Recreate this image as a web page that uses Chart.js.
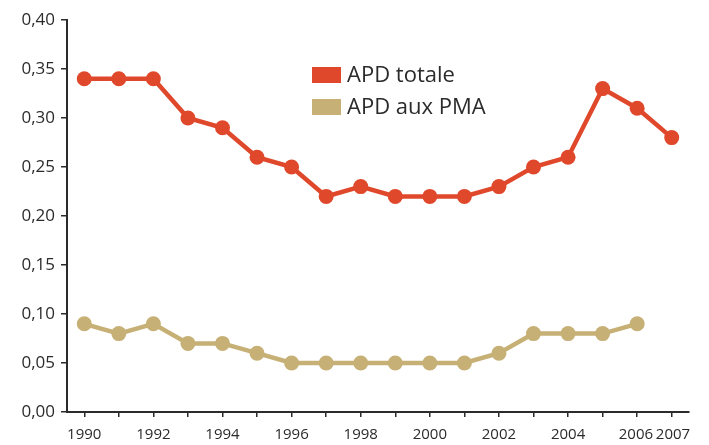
<!DOCTYPE html>
<html>
<head>
<meta charset="utf-8">
<script src="https://cdn.jsdelivr.net/npm/chart.js@4/dist/chart.umd.min.js"></script>
<style>
  html, body { margin: 0; padding: 0; background: #fff; }
  #wrap { width: 709px; height: 445px; }
</style>
</head>
<body>
<div id="wrap"><canvas id="chart"></canvas></div>
<script>
// data
const years = [1990, 1991, 1992, 1993, 1994, 1995, 1996, 1997, 1998, 1999, 2000, 2001, 2002, 2003, 2004, 2005, 2006, 2007];
const apdTotale = [0.34, 0.34, 0.34, 0.30, 0.29, 0.26, 0.25, 0.22, 0.23, 0.22, 0.22, 0.22, 0.23, 0.25, 0.26, 0.33, 0.31, 0.28];
const apdPma = [0.09, 0.08, 0.09, 0.07, 0.07, 0.06, 0.05, 0.05, 0.05, 0.05, 0.05, 0.05, 0.06, 0.08, 0.08, 0.08, 0.09, null];
const yearLabels = [1990, 1992, 1994, 1996, 1998, 2000, 2002, 2004, 2006, 2007];
const seriesNames = ['APD totale', 'APD aux PMA'];

const red = '#e0482c';
const tan = '#c6b075';
const ink = '#2b2b2b';
const font = '"Open Sans", sans-serif';

// legend drawn inside the plot, like the original
const innerLegend = {
    id: 'innerLegend',
    afterDraw(chart) {
        const ctx = chart.ctx;
        ctx.save();
        ctx.font = '500 22px ' + font;
        ctx.textBaseline = 'middle';
        chart.data.datasets.forEach((ds, i) => {
            const y = 75 + i * 32;
            ctx.fillStyle = ds.borderColor;
            ctx.fillRect(312, y - 8, 29, 16);
            ctx.fillStyle = ink;
            ctx.fillText(ds.label, 347, y + 1);
        });
        ctx.restore();
    }
};

const points = arr => years.map((y, i) => ({ x: y, y: arr[i] }));

// the last two year labels sit close together, nudge them apart a little
const yearText = v => {
    if (!yearLabels.includes(v)) return '';
    if (v === 2006) return v + '\u2009';
    if (v === 2007) return '\u2009' + v;
    return String(v);
};

new Chart(document.getElementById('chart'), {
    type: 'line',
    data: {
        datasets: [
            {
                label: seriesNames[0],
                data: points(apdTotale),
                borderColor: red,
                backgroundColor: red,
                borderWidth: 4.5,
                pointRadius: 7.5,
                pointBorderWidth: 0
            },
            {
                label: seriesNames[1],
                data: points(apdPma),
                borderColor: tan,
                backgroundColor: tan,
                borderWidth: 4.5,
                pointRadius: 7.5,
                pointBorderWidth: 0
            }
        ]
    },
    options: {
        responsive: true,
        maintainAspectRatio: false,
        animation: false,
        layout: { padding: { top: 20, right: 20, left: 0, bottom: 0 } },
        plugins: {
            legend: { display: false },
            tooltip: { enabled: false }
        },
        scales: {
            x: {
                type: 'linear',
                min: 1989.5,
                max: 2007.5,
                afterBuildTicks: axis => {
                    axis.ticks = years.map(v => ({ value: v }));
                },
                afterFit: scale => { scale.height = 33; },
                grid: {
                    drawOnChartArea: false,
                    drawTicks: true,
                    tickLength: 5,
                    color: ink,
                    lineWidth: 1.5
                },
                border: { display: true, color: ink, width: 2 },
                ticks: {
                    autoSkip: false,
                    maxRotation: 0,
                    color: ink,
                    padding: 9,
                    font: { family: font, size: 15 },
                    callback: yearText
                }
            },
            y: {
                min: 0,
                max: 0.4,
                afterFit: scale => { scale.width = 67; },
                ticks: {
                    stepSize: 0.05,
                    color: ink,
                    padding: 6,
                    font: { family: font, size: 17 },
                    callback: v => v.toFixed(2).replace('.', ',')
                },
                grid: {
                    drawOnChartArea: false,
                    drawTicks: true,
                    tickLength: 6,
                    color: ink,
                    lineWidth: 1.5
                },
                border: { display: true, color: ink, width: 2 }
            }
        }
    },
    plugins: [innerLegend]
});
</script>
</body>
</html>
